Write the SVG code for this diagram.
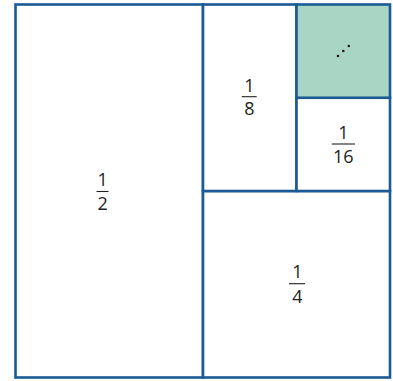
<svg xmlns="http://www.w3.org/2000/svg" width="393" height="381" viewBox="0 0 393 381">
<style>
.cell{fill:#ffffff;stroke:#1a5b94;stroke-width:2.6}
.green{fill:#a9d5c4}
.t{font-family:"Open Sans","Noto Sans",sans-serif;font-size:18px;fill:#231f20;text-anchor:middle}
.bar{stroke:#231f20;stroke-width:1.1}
.dot{fill:#231f20}
</style>
<rect width="393" height="381" fill="#ffffff"/>
<g id="half">
<rect class="cell" x="15.5" y="4.5" width="187.5" height="373"/>
<text class="t" x="102.7" y="186">1</text>
<line class="bar" x1="96.5" y1="191.5" x2="108.5" y2="191.5"/>
<text class="t" x="102.7" y="209.5">2</text>
</g>
<g id="quarter">
<rect class="cell" x="203" y="191" width="187" height="186.5"/>
<text class="t" x="297.3" y="278.3">1</text>
<line class="bar" x1="289" y1="283.7" x2="305" y2="283.7"/>
<text class="t" x="297.3" y="302.7">4</text>
</g>
<g id="eighth">
<rect class="cell" x="203" y="4.5" width="93.5" height="186.5"/>
<text class="t" x="249.3" y="92">1</text>
<line class="bar" x1="241.7" y1="96.7" x2="256.7" y2="96.7"/>
<text class="t" x="249.3" y="115">8</text>
</g>
<g id="sixteenth">
<rect class="cell" x="296.5" y="97.75" width="93.5" height="93.25"/>
<text class="t" x="343.3" y="139.3">1</text>
<line class="bar" x1="331.7" y1="144" x2="355" y2="144"/>
<text class="t" x="343.3" y="163.3">16</text>
</g>
<g id="rest">
<rect class="cell green" x="296.5" y="4.5" width="93.5" height="93.25"/>
<circle class="dot" cx="338" cy="56" r="1.3"/>
<circle class="dot" cx="343.3" cy="51" r="1.3"/>
<circle class="dot" cx="348.8" cy="46" r="1.3"/>
</g>
<g id="connectors"/>
</svg>
